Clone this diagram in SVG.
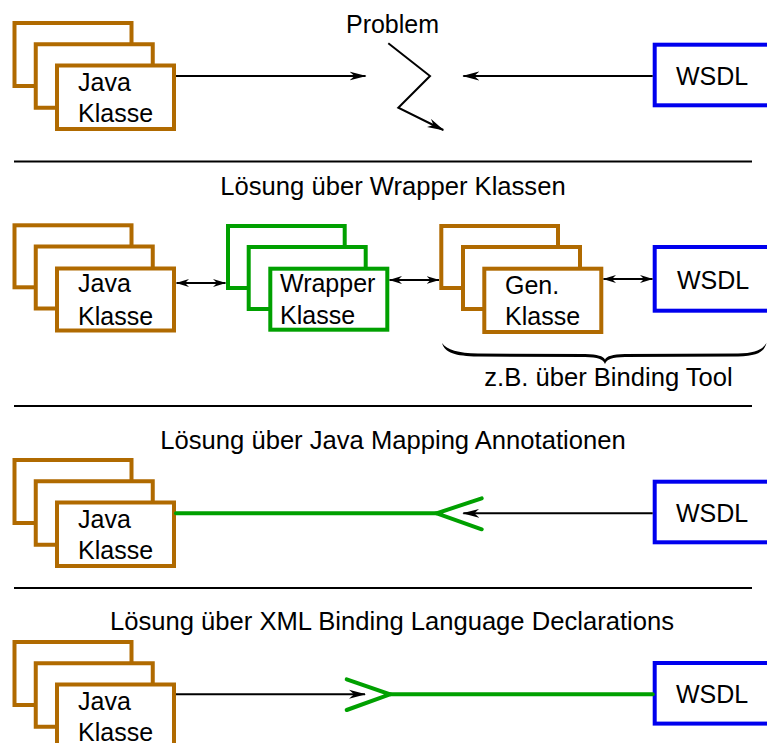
<svg xmlns="http://www.w3.org/2000/svg" width="767" height="743" viewBox="0 0 767 743">
<defs>
<style>
.jv{fill:#fff;stroke:#b06a00;stroke-width:4}
.gr{fill:#fff;stroke:#00a000;stroke-width:4}
.bl{fill:#fff;stroke:#0000ee;stroke-width:4}
.t{font-family:"Liberation Sans",Arial,sans-serif;font-size:25px;fill:#000}
.h{font-size:25.6px}
.c{text-anchor:middle}
.ln{stroke:#000;stroke-width:2;fill:none}
.gl{stroke:#00a000;stroke-width:4;fill:none;stroke-linecap:round;stroke-linejoin:miter}
</style>
<marker id="a" viewBox="0 0 17 10" refX="16" refY="5" markerWidth="17" markerHeight="10" markerUnits="userSpaceOnUse" orient="auto-start-reverse">
<path d="M0,0.5 L17,5 L0,9.5 L5,5 Z" fill="#000"/>
</marker>
<marker id="s" viewBox="0 0 13 9" refX="12.5" refY="4.5" markerWidth="13" markerHeight="9" markerUnits="userSpaceOnUse" orient="auto-start-reverse">
<path d="M0,0.5 L13,4.5 L0,8.5 L4,4.5 Z" fill="#000"/>
</marker>
</defs>
<rect width="767" height="743" fill="#fff"/>

<g id="dividers" class="ln">
<line x1="14" y1="161.5" x2="752" y2="161.5"/>
<line x1="14" y1="406" x2="752" y2="406"/>
<line x1="14" y1="588" x2="752" y2="588"/>
</g>

<g id="titles">
<text class="t c" x="392.5" y="33">Problem</text>
<text class="t h c" x="393" y="195">Lösung über Wrapper Klassen</text>
<text class="t h c" x="608.5" y="386">z.B. über Binding Tool</text>
<text class="t h c" x="393" y="449">Lösung über Java Mapping Annotationen</text>
<text class="t h c" x="392" y="630">Lösung über XML Binding Language Declarations</text>
</g>

<!-- Section 1 -->
<g id="java1">
<rect class="jv" x="14.5" y="23" width="117" height="63"/>
<rect class="jv" x="35.75" y="44.25" width="117" height="63.5"/>
<rect class="jv" x="57" y="65.5" width="117" height="63.5"/>
<text class="t" x="78" y="90.5">Java</text>
<text class="t" x="78" y="121.5">Klasse</text>
</g>
<g id="wsdl1">
<rect class="bl" x="654.7" y="44.7" width="140" height="60.6"/>
<text class="t" x="676" y="85">WSDL</text>
</g>

<!-- Section 2 -->
<g id="java2">
<rect class="jv" x="14.5" y="225.3" width="117" height="62"/>
<rect class="jv" x="35.75" y="246.5" width="117" height="62"/>
<rect class="jv" x="57" y="268.5" width="117" height="62"/>
<text class="t" x="78" y="292">Java</text>
<text class="t" x="78" y="324.5">Klasse</text>
</g>
<g id="wrapper">
<rect class="gr" x="228" y="226" width="116.7" height="62"/>
<rect class="gr" x="248.7" y="247" width="117" height="62"/>
<rect class="gr" x="270.3" y="268.7" width="117" height="61"/>
<text class="t" x="280" y="292">Wrapper</text>
<text class="t" x="280" y="323.5">Klasse</text>
</g>
<g id="gen">
<rect class="jv" x="441.3" y="226" width="116.7" height="62"/>
<rect class="jv" x="463" y="247" width="117" height="62"/>
<rect class="jv" x="484.3" y="268.7" width="117" height="63.3"/>
<text class="t" x="505" y="293.5">Gen.</text>
<text class="t" x="505" y="325">Klasse</text>
</g>
<g id="wsdl2">
<rect class="bl" x="654.7" y="247" width="140" height="63.7"/>
<text class="t" x="677" y="288.5">WSDL</text>
</g>
<g id="brace">
<path d="M442,343 C445,353 455,356 478,356.5 L585,357 C598,357.5 603,359 605,364 C607,359 612,357.5 625,357 L738,356.5 C758,356 764,352 766.5,343 C762,350 755,353 738,353.5 L625,354 C612,354.5 607,356 605,359.5 C603,356 598,354.5 585,354 L478,353.5 C458,353 447,350 442,343 Z" fill="#000"/>
</g>

<!-- Section 3 -->
<g id="java3">
<rect class="jv" x="14.5" y="460" width="117" height="63"/>
<rect class="jv" x="35.75" y="481.25" width="117" height="63.5"/>
<rect class="jv" x="57" y="502.5" width="117" height="63.5"/>
<text class="t" x="78" y="527.5">Java</text>
<text class="t" x="78" y="558.5">Klasse</text>
</g>
<g id="wsdl3">
<rect class="bl" x="654.7" y="481.7" width="140" height="60.6"/>
<text class="t" x="676" y="522">WSDL</text>
</g>

<!-- Section 4 -->
<g id="java4">
<rect class="jv" x="14.5" y="642" width="117" height="63"/>
<rect class="jv" x="35.75" y="663.25" width="117" height="63.5"/>
<rect class="jv" x="57" y="684.5" width="117" height="63.5"/>
<text class="t" x="78" y="709.5">Java</text>
<text class="t" x="78" y="740.5">Klasse</text>
</g>
<g id="wsdl4">
<rect class="bl" x="654.7" y="663" width="140" height="60.6"/>
<text class="t" x="676" y="703.3">WSDL</text>
</g>

<g id="connectors">
<line class="ln" x1="176" y1="76" x2="365.5" y2="76" marker-end="url(#a)"/>
<polyline class="ln" points="388.3,43.3 430,76 398.3,107.7 443.3,130" marker-end="url(#a)"/>
<line class="ln" x1="652.7" y1="76" x2="463.3" y2="76" marker-end="url(#a)"/>

<line class="ln" x1="176.5" y1="283" x2="225.5" y2="283" marker-start="url(#s)" marker-end="url(#s)"/>
<line class="ln" x1="389.5" y1="280" x2="439" y2="280" marker-start="url(#s)" marker-end="url(#s)"/>
<line class="ln" x1="603.5" y1="279" x2="652.5" y2="279" marker-start="url(#s)" marker-end="url(#s)"/>

<line class="gl" x1="176" y1="513.3" x2="436.7" y2="513.3" stroke-linecap="butt"/>
<polyline class="gl" points="481.7,498.3 436.7,513.3 481.7,529.3"/>
<line class="ln" x1="652.7" y1="513.3" x2="463.3" y2="513.3" marker-end="url(#a)"/>

<line class="ln" x1="176" y1="694.3" x2="365" y2="694.3" marker-end="url(#a)"/>
<polyline class="gl" points="346.7,679.3 390,694.3 346.7,710"/>
<line class="gl" x1="390" y1="694.3" x2="652.7" y2="694.3" stroke-linecap="butt"/>
</g>
</svg>
